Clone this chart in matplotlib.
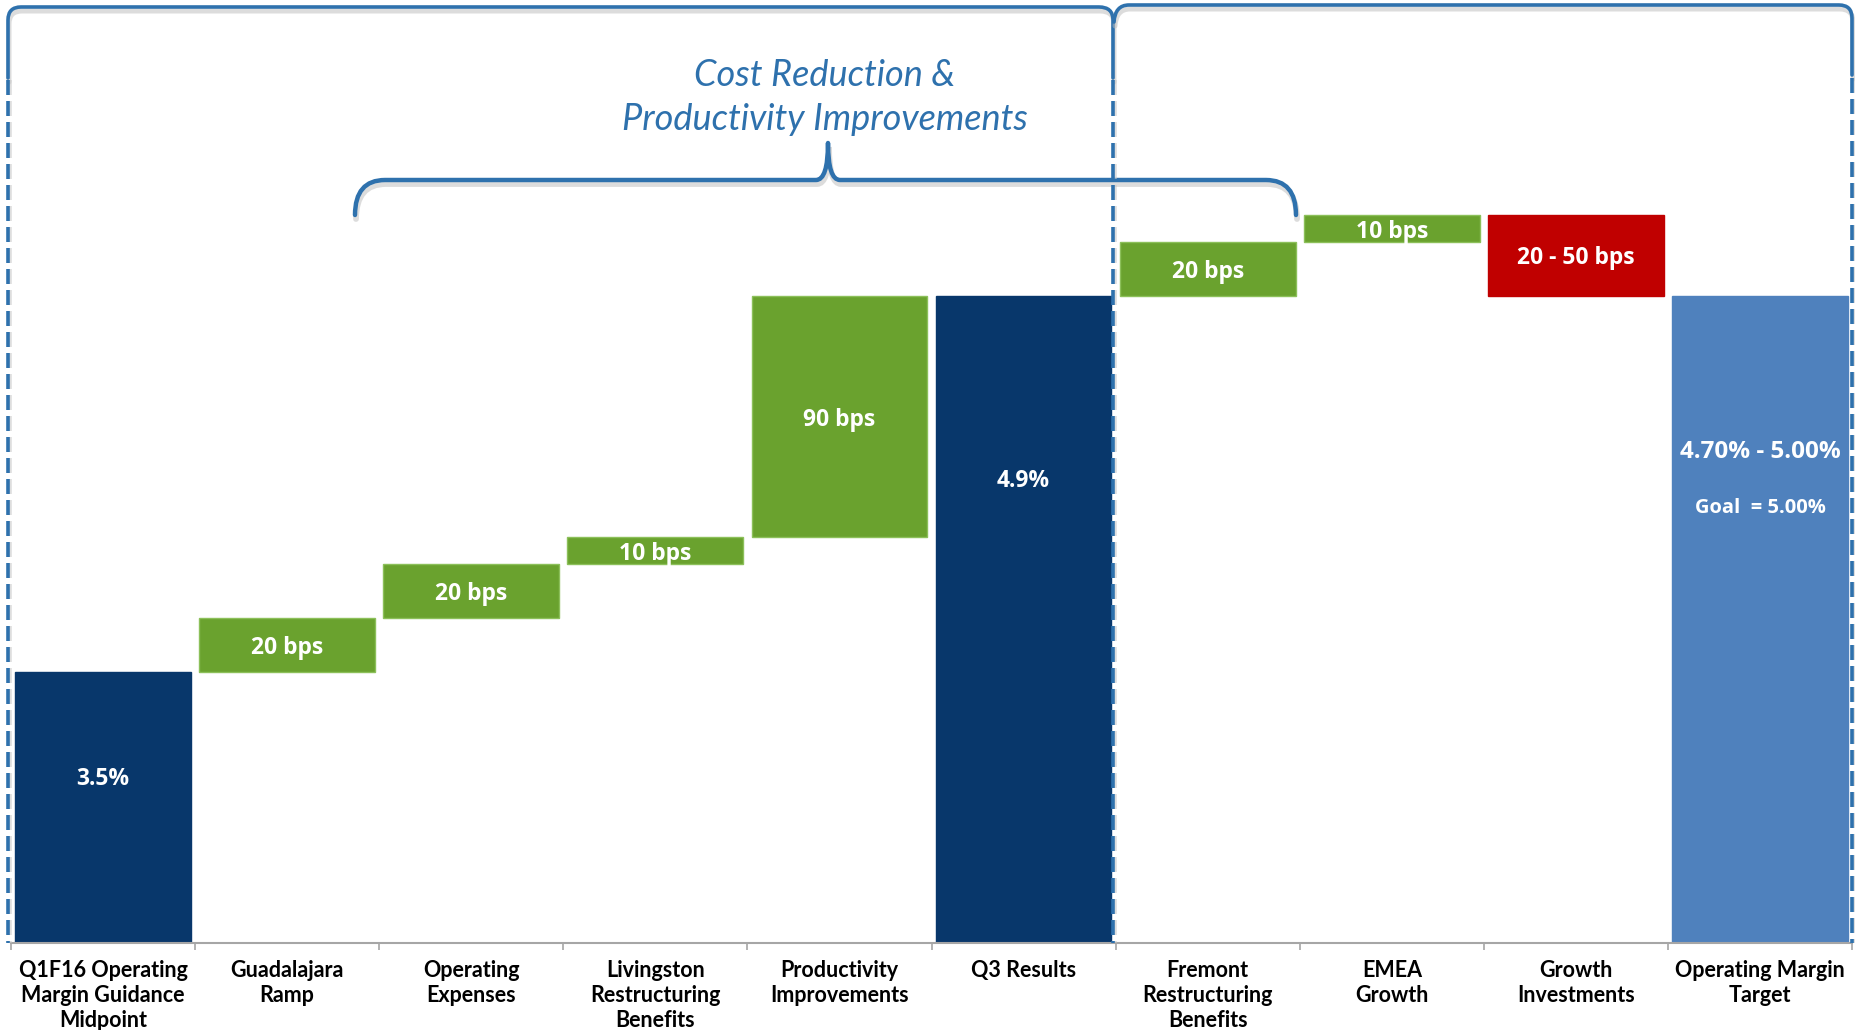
import numpy as np
import matplotlib
matplotlib.use("Agg")
import matplotlib.pyplot as plt
from matplotlib.path import Path
from matplotlib.patches import PathPatch

# data
categories = ['Q1F16 Operating\nMargin Guidance\nMidpoint', 'Guadalajara\nRamp',
              'Operating\nExpenses', 'Livingston\nRestructuring\nBenefits',
              'Productivity\nImprovements', 'Q3 Results',
              'Fremont\nRestructuring\nBenefits', 'EMEA\nGrowth',
              'Growth\nInvestments', 'Operating Margin\nTarget']
kinds = ['total', 'up', 'up', 'up', 'up', 'total', 'up', 'up', 'down', 'total']
values = [3.5, 0.2, 0.2, 0.1, 0.9, 4.9, 0.2, 0.1, 0.3, 4.9]
labels = ['3.5%', '20 bps', '20 bps', '10 bps', '90 bps', '4.9%',
          '20 bps', '10 bps', '20 - 50 bps', '4.70% - 5.00%']
goal_text = 'Goal  = 5.00%'

NAVY = '#08376B'
GREEN = '#6AA22E'
RED = '#C00000'
LIGHT = '#4F81BD'
LINE_BLUE = '#2E71AD'
colors = [NAVY, GREEN, GREEN, GREEN, GREEN, NAVY, GREEN, GREEN, RED, LIGHT]

W, H = 1855, 1030
y0 = 2.49          # bottom of the value axis
px_per_pct = 268.6
base_px = 943      # axis line, pixels from top
left_px, right_px = 11, 1852

fig = plt.figure(figsize=(W / 100, H / 100), dpi=100)
ax = fig.add_axes([left_px / W, (H - base_px) / H, (right_px - left_px) / W, base_px / H])
ax.set_xlim(-0.5, len(categories) - 0.5)
ax.set_ylim(y0, y0 + base_px / px_per_pct)

# waterfall
bottoms, heights = [], []
level = 0
for k, v in zip(kinds, values):
    if k == 'total':
        bottoms.append(y0); heights.append(v - y0); level = v
    elif k == 'up':
        bottoms.append(level); heights.append(v); level += v
    else:
        bottoms.append(level - v); heights.append(v); level -= v

x = np.arange(len(categories))
edge = ['#8CC05A' if c == GREEN else c for c in colors]
ax.bar(x, heights, bottom=bottoms, width=0.955, color=colors, edgecolor=edge, linewidth=1)

# labels
lab_font = dict(family='Open Sans', weight='bold', color='white', ha='center', va='center_baseline')
total_label_y = {0: 3.11, 5: 4.22, 9: 4.33}
for i, (b, h, t) in enumerate(zip(bottoms, heights, labels)):
    yy = total_label_y.get(i, b + h / 2)
    size = 17.5 if i == 9 else 16.5
    ax.text(i, yy, t, fontsize=size, **lab_font)
ax.text(9, 4.12, goal_text, fontsize=14.5, **lab_font)

# axis styling
for s in ['left', 'right', 'top']:
    ax.spines[s].set_visible(False)
ax.spines['bottom'].set_color('#A6A6A6')
ax.spines['bottom'].set_linewidth(1.5)
ax.set_yticks([])
ax.set_xticks(x)
ax.set_xticklabels(categories, fontsize=15.5, fontweight='bold', family='Lato',
                   linespacing=1.25, va='top')
ax.tick_params(axis='x', which='major', length=0, pad=12)
ax.set_xticks(np.arange(-0.5, len(categories)), minor=True)
ax.tick_params(axis='x', which='minor', length=5, width=1.2, color='#A6A6A6', direction='out')
ax.set_facecolor('none')

# overlay for brackets (pixel coordinates)
ov = fig.add_axes([0, 0, 1, 1], zorder=5)
ov.set_xlim(0, W)
ov.set_ylim(H, 0)
ov.axis('off')
ov.patch.set_visible(False)

lw = 2.6
M, L, C = Path.MOVETO, Path.LINETO, Path.CURVE3


def draw(verts, codes, color=LINE_BLUE, width=lw, shadow=True):
    if shadow:
        sv = [(a + 1, b + 4) for a, b in verts]
        ov.add_patch(PathPatch(Path(sv, codes), fill=False, lw=width + 1,
                               edgecolor='#BBBBBB', alpha=0.5, capstyle='round'))
    ov.add_patch(PathPatch(Path(verts, codes), fill=False, lw=width,
                           edgecolor=color, capstyle='round', joinstyle='round'))


mid_px = 1113
# left bracket
draw([(8, 78), (8, 20), (8, 7), (21, 7), (mid_px - 14, 7), (mid_px, 7), (mid_px, 20), (mid_px, 78)],
     [M, L, C, C, L, C, C, L])
# right bracket
draw([(mid_px + 1, 22), (mid_px + 2, 5), (mid_px + 16, 5), (1839, 5), (1852, 5), (1852, 18), (1852, 75)],
     [M, C, C, L, C, C, L])

# dashed verticals
for xp, top in [(8, 80), (mid_px, 80), (1852, 78)]:
    ov.plot([xp + 1.5, xp + 1.5], [top, base_px], color='#C8C8C8', lw=lw, alpha=0.6,
            dashes=(15 * 0.72 / lw, 6 * 0.72 / lw), solid_capstyle='butt')
    ov.plot([xp, xp], [top, base_px], color=LINE_BLUE, lw=lw,
            dashes=(15 * 0.72 / lw, 6 * 0.72 / lw), solid_capstyle='butt')

# curly brace
bl, br, tip_x = 355, 1296, 828
by, ey, ty = 180, 215, 143
draw([(bl, ey), (bl, by), (bl + 30, by), (tip_x - 12, by), (tip_x, by), (tip_x, ty),
      (tip_x, by), (tip_x + 12, by), (br - 30, by), (br, by), (br, ey)],
     [M, C, C, L, C, C, C, C, L, C, C], width=3.2)

ov.text(825, 75, 'Cost Reduction &', fontsize=26, style='italic', family='Lato',
        color=LINE_BLUE, ha='center', va='center')
ov.text(825, 120, 'Productivity Improvements', fontsize=26, style='italic', family='Lato',
        color=LINE_BLUE, ha='center', va='center')

fig.savefig('out.png', dpi=100)
